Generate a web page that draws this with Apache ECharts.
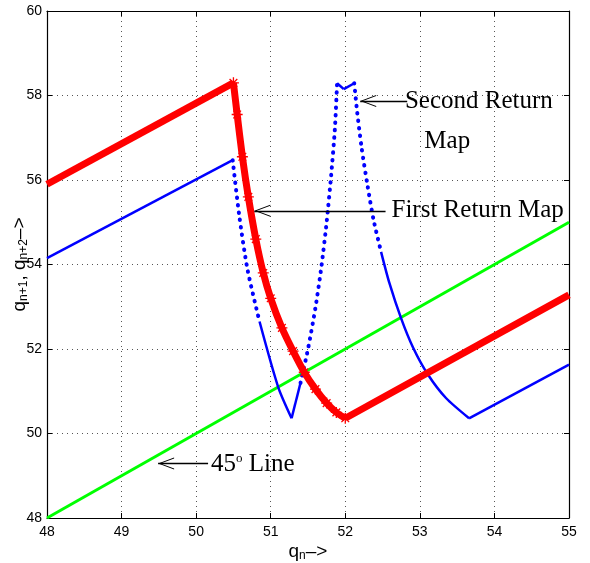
<!DOCTYPE html>
<html>
<head>
<meta charset="utf-8">
<script src="https://cdn.jsdelivr.net/npm/echarts@6/dist/echarts.min.js"></script>
<style>
  html, body { margin: 0; background: #fff; }
  #chart { width: 590px; height: 563px; }
</style>
</head>
<body>
<div id="chart"></div>
<script>
// axis ticks
const xTicks = [48, 49, 50, 51, 52, 53, 54, 55]
const yTicks = [48, 50, 52, 54, 56, 58, 60]

// 45 degree line
const lineX = [48, 55]
const lineY = [48, 55]

// first return map (red), curve part is index 1..14
const redX = [48, 50.5, 50.55, 50.62, 50.7, 50.8, 50.9, 51.0, 51.15, 51.3, 51.45, 51.6, 51.75, 51.88, 52.0, 55]
const redY = [55.9, 58.3, 57.55, 56.55, 55.6, 54.6, 53.8, 53.2, 52.5, 51.95, 51.45, 51.05, 50.72, 50.5, 50.36, 53.28]
const redCurve = [1, 14]

// second return map (blue)
const blueX = [48, 50.49, 50.58, 50.69, 50.85, 51.1, 51.28, 51.4, 51.5, 51.6, 51.68, 51.75, 51.81, 51.86, 51.89,
  51.98, 52.12, 52.16, 52.22, 52.3, 52.38, 52.48, 52.59, 52.75, 52.91, 53.11, 53.35, 53.66, 55]
const blueY = [54.15, 56.47, 55.13, 53.87, 52.65, 51.1, 50.36, 51.2, 52.0, 52.98, 53.95, 55.0, 56.1, 57.2, 58.29,
  58.15, 58.29, 57.6, 56.75, 55.85, 55.05, 54.3, 53.57, 52.72, 52.03, 51.39, 50.84, 50.36, 51.63]
// index ranges drawn solid / dotted
const blueSolid = [[0, 1], [4, 6], [6, 7], [14, 15], [15, 16], [21, 27], [27, 28]]
const blueDotted = [[1, 4], [7, 14], [16, 21]]

// annotations: arrow tip, arrow tail, text anchor
const notes = [
  { tip: [52.2, 57.87], tail: [52.83, 57.87] },
  { tip: [50.78, 55.27], tail: [52.54, 55.27] },
  { tip: [49.49, 49.29], tail: [50.16, 49.29] }
]
const labels = [
  { at: [52.8, 57.87], text: 'Second Return' },
  { at: [53.06, 56.92], text: 'Map' },
  { at: [52.62, 55.27], text: 'First Return Map' },
  { at: [50.2, 49.26], text: '45{sup|o} Line' }
]

const pairs = (xs, ys, a, b) => xs.slice(a, b + 1).map((x, i) => [x, ys[a + i]])

const chevron = 'path://M0,16 L6,0 L12,16 L11,16 L6,2.6 L1,16 Z'
const star = 'path://M5,0 L5,10 M0,5 L10,5 M1.5,1.5 L8.5,8.5 M8.5,1.5 L1.5,8.5'

const chart = echarts.init(document.getElementById('chart'))

const axisFont = { fontFamily: 'Liberation Sans', fontSize: 14, color: '#000' }
const serif = { fontFamily: 'Liberation Serif', fontSize: 25, color: '#000' }

const series = []

series.push({
  type: 'line',
  data: pairs(lineX, lineY, 0, 1),
  symbol: 'none',
  lineStyle: { color: '#00ff00', width: 3 },
  z: 2,
  markLine: {
    silent: true,
    animation: false,
    lineStyle: { color: '#000', width: 1.3, type: 'solid' },
    label: { show: false },
    data: notes.map(n => [
      { coord: n.tip, symbol: chevron, symbolSize: [12, 16], symbolOffset: [0, 8] },
      { coord: n.tail, symbol: 'none' }
    ])
  },
  markPoint: {
    silent: true,
    animation: false,
    symbol: 'circle',
    symbolSize: 0,
    data: labels.map(l => ({
      coord: l.at,
      label: {
        show: true,
        position: 'right',
        distance: 0,
        formatter: l.text,
        ...serif,
        rich: { sup: { fontFamily: 'Liberation Serif', fontSize: 13, verticalAlign: 'top', padding: [0, 0, 12, 0] } }
      }
    }))
  }
})

blueSolid.forEach(([a, b]) => series.push({
  type: 'line',
  data: pairs(blueX, blueY, a, b),
  symbol: 'none',
  smooth: 0.25,
  lineStyle: { color: '#0000ff', width: 2.5 },
  z: 3
}))

blueDotted.forEach(([a, b]) => series.push({
  type: 'line',
  data: pairs(blueX, blueY, a, b),
  symbol: 'none',
  smooth: 0.25,
  lineStyle: { color: '#0000ff', width: 4, type: [0.5, 7], cap: 'round' },
  z: 3
}))

series.push({
  type: 'line',
  data: pairs(redX, redY, 0, redCurve[0]),
  symbol: 'none',
  lineStyle: { color: '#ff0000', width: 7 },
  z: 4
})
series.push({
  type: 'line',
  data: pairs(redX, redY, redCurve[1], redX.length - 1),
  symbol: 'none',
  lineStyle: { color: '#ff0000', width: 7 },
  z: 4
})
series.push({
  type: 'line',
  data: pairs(redX, redY, redCurve[0], redCurve[1]),
  smooth: 0.25,
  symbol: star,
  symbolSize: 11,
  showAllSymbol: true,
  itemStyle: { color: '#ff0000', borderColor: '#ff0000', borderWidth: 1.3 },
  lineStyle: { color: '#ff0000', width: 7 },
  z: 4
})

const baseAxis = {
  type: 'value',
  axisLine: { show: true, lineStyle: { color: '#000', width: 1.2 } },
  axisTick: { show: true, inside: true, length: 5, lineStyle: { color: '#000' } },
  splitLine: { show: false }
}

chart.setOption({
  animation: false,
  backgroundColor: '#fff',
  grid: { left: 47, right: 21, top: 11, bottom: 45, outerBoundsMode: 'none', containLabel: false },
  xAxis: [
    {
      ...baseAxis,
      min: xTicks[0], max: xTicks[xTicks.length - 1], interval: 1,
      axisLabel: { ...axisFont, margin: 7 },
      splitLine: { show: true, lineStyle: { color: '#555', width: 1, type: [1, 4] } },
      name: '{q|q}{sub|n}{q|–>}',
      nameLocation: 'middle',
      nameGap: 24,
      nameMoveOverlap: false,
      nameTextStyle: {
        rich: {
          q: { fontFamily: 'Liberation Sans', fontSize: 19, color: '#000' },
          sub: { fontFamily: 'Liberation Sans', fontSize: 12, color: '#000', verticalAlign: 'bottom', padding: [8, 0, 0, 0] }
        }
      }
    },
    { ...baseAxis, position: 'top', min: xTicks[0], max: xTicks[xTicks.length - 1], interval: 1, axisLabel: { show: false } }
  ],
  yAxis: [
    {
      ...baseAxis,
      min: yTicks[0], max: yTicks[yTicks.length - 1], interval: 2,
      axisLabel: { ...axisFont, margin: 5 },
      splitLine: { show: true, lineStyle: { color: '#555', width: 1, type: [1, 4] } },
      name: '{q|q}{sub|n+1}{q|, q}{sub|n+2}{q|–>}',
      nameLocation: 'middle',
      nameGap: 17,
      nameMoveOverlap: false,
      nameTextStyle: {
        rich: {
          q: { fontFamily: 'Liberation Sans', fontSize: 19, color: '#000' },
          sub: { fontFamily: 'Liberation Sans', fontSize: 12, color: '#000', verticalAlign: 'bottom', padding: [8, 0, 0, 0] }
        }
      }
    },
    { ...baseAxis, position: 'right', min: yTicks[0], max: yTicks[yTicks.length - 1], interval: 2, axisLabel: { show: false } }
  ],
  series
})
</script>
</body>
</html>
